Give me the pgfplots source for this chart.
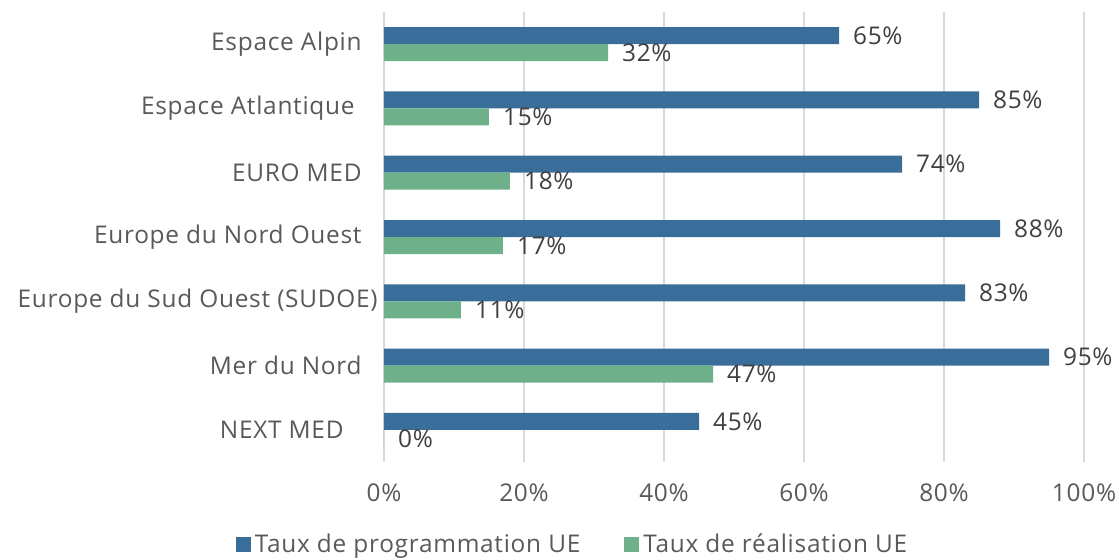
\documentclass[border=0pt]{standalone}
\usepackage{fontspec}
\setmainfont[LetterSpace=3]{Open Sans}
\usepackage{pgfplots}
\pgfplotsset{compat=1.18}
\definecolor{cblue}{HTML}{3A6E9A}
\definecolor{cgreen}{HTML}{6EB08A}
\definecolor{gridc}{HTML}{D9D9D9}
\definecolor{labc}{HTML}{595959}
\definecolor{datac}{HTML}{404040}
\newcommand{\fs}{\fontsize{12.2}{14}\selectfont}
\begin{document}
\begin{tikzpicture}
\begin{axis}[
  at={(192pt,48.5pt)}, anchor=south west,
  scale only axis, width=350pt, height=225pt,
  xbar,
  xmin=0, xmax=100, ymin=-0.5, ymax=6.5,
  xtick={0,20,40,60,80,100},
  xticklabel={\pgfmathprintnumber{\tick}\%},
  ytick={0,1,2,3,4,5,6},
  yticklabels={NEXT MED\kern9pt, Mer du Nord, Europe du Sud Ouest (SUDOE)\kern-8pt, Europe du Nord Ouest, EURO MED, Espace Atlantique\kern3.5pt, Espace Alpin},
  axis line style={draw=none},
  major tick length=0pt,
  xmajorgrids, grid style={gridc, line width=0.8pt},
  tick label style={font=\fs, text=labc},
  /pgf/number format/assume math mode=true,
  yticklabel style={anchor=east, inner sep=0pt, xshift=-11pt},
  xticklabel style={anchor=center, inner sep=0pt, yshift=-15.5pt},
  bar width=8.5pt,
  nodes near coords={\pgfmathprintnumber{\pgfplotspointmeta}\%},
  nodes near coords style={font=\fs, text=datac, anchor=west, xshift=3.5pt},
  legend style={at={(0.2707,-0.184)}, anchor=center, draw=none, fill=none,
    font=\fs, text=labc, legend columns=2,
    /tikz/every even column/.append style={column sep=20pt}},
  legend image code/.code={\fill[#1] (-0.5pt,-3.75pt) rectangle (7pt,3.75pt);},
  legend cell align=left,
]
\addplot[fill=cblue, draw=none, bar shift=4.25pt] coordinates {
  (45,0) (95,1) (83,2) (88,3) (74,4) (85,5) (65,6)};
\addplot[fill=cgreen, draw=none, bar shift=-4.25pt] coordinates {
  (0,0) (47,1) (11,2) (17,3) (18,4) (15,5) (32,6)};
\legend{Taux de programmation UE, Taux de réalisation UE}
\end{axis}
\pgfresetboundingbox
\path (0,0) rectangle (559.5pt,279.5pt);
\end{tikzpicture}
\end{document}
